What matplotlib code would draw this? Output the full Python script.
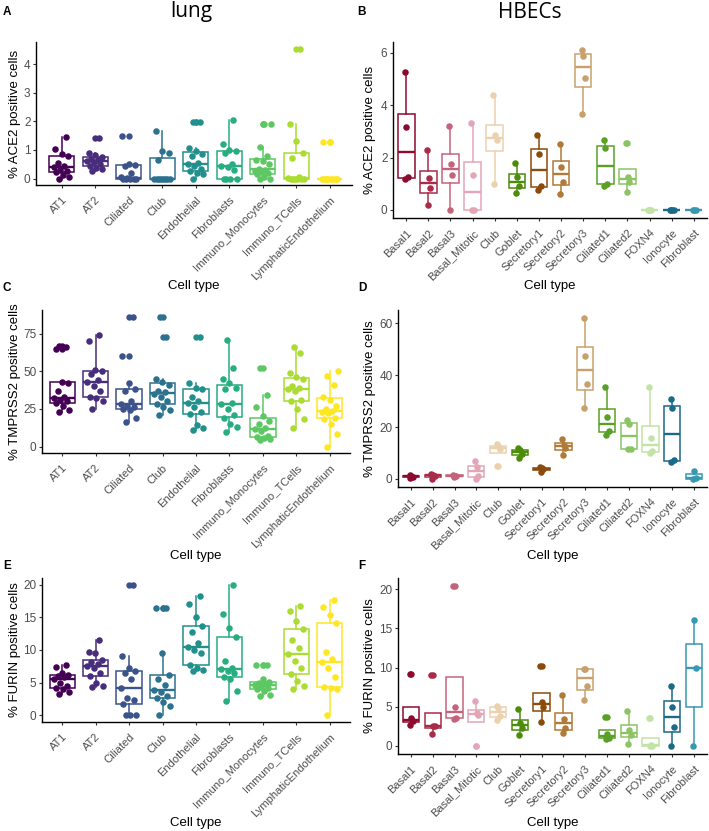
import numpy as np
import matplotlib
matplotlib.use('Agg')
import matplotlib.pyplot as plt

plt.rcParams['font.family'] = ['Liberation Sans', 'DejaVu Sans']

# ---- categories / colours ----
lung_cells = ['AT1', 'AT2', 'Ciliated', 'Club', 'Endothelial', 'Fibroblasts',
              'Immuno_Monocytes', 'Immuno_TCells', 'LymphaticEndothelium']
lung_colors = ['#440154', '#472D7B', '#3B528B', '#2C728E', '#21908C',
               '#27AD81', '#5DC863', '#AADC32', '#FDE725']

hbec_cells = ['Basal1', 'Basal2', 'Basal3', 'Basal_Mitotic', 'Club', 'Goblet',
              'Secretory1', 'Secretory2', 'Secretory3', 'Ciliated1', 'Ciliated2',
              'FOXN4', 'Ionocyte', 'Fibroblast']
hbec_colors = ['#8B0A2E', '#A82C4A', '#C4647C', '#E3A6B6', '#EBD2AE', '#4C8C0A',
               '#8A4B0C', '#B07A38', '#C8A06E', '#5AA028', '#8CC464', '#C2E2A6',
               '#1A6A88', '#3898B0']

# ---- values (% positive cells per donor) ----
ace2_lung = [
    [0.0, 0.05, 0.12, 0.23, 0.25, 0.3, 0.42, 0.45, 0.55, 0.8, 0.85, 1.05, 1.45],
    [0.28, 0.33, 0.38, 0.43, 0.5, 0.57, 0.62, 0.66, 0.7, 0.74, 0.82, 0.9, 1.42],
    [0, 0, 0, 0, 0, 0.02, 0.05, 0.18, 0.45, 0.48, 0.5, 1.5],
    [0, 0, 0, 0, 0, 0, 0, 0, 0.65, 0.88, 0.95, 1.65],
    [0, 0.15, 0.2, 0.25, 0.35, 0.45, 0.5, 0.55, 0.8, 0.85, 0.95, 1.07, 1.97, 1.97],
    [0, 0, 0, 0, 0.3, 0.4, 0.45, 0.5, 0.9, 0.95, 1.0, 1.2, 2.05],
    [0, 0, 0.05, 0.15, 0.18, 0.22, 0.25, 0.3, 0.35, 0.5, 0.6, 0.65, 0.8, 1.1, 1.9, 1.9],
    [0, 0, 0, 0, 0, 0, 0.02, 0.05, 0.72, 0.9, 1.3, 1.92, 4.55],
    [0, 0, 0, 0, 0, 0, 0, 0, 0, 0, 1.28, 1.28],
]
ace2_hbec = [
    [1.18, 1.25, 3.15, 5.25],
    [0.2, 0.82, 1.22, 2.27],
    [0, 1.35, 1.75, 3.22],
    [0, 0, 1.35, 3.3],
    [1.0, 2.65, 2.85, 4.38],
    [0.65, 0.92, 1.25, 1.8],
    [0.78, 0.9, 2.13, 2.87],
    [0.62, 1.08, 1.63, 2.53],
    [3.65, 5.05, 5.88, 6.1],
    [0.92, 1.0, 2.37, 2.68],
    [0.7, 1.08, 1.25, 2.57],
    [0, 0, 0, 0],
    [0, 0, 0, 0],
    [0, 0, 0],
]
tmprss2_lung = [
    [23, 24, 27, 29, 30, 31, 32, 33, 37, 42, 43, 65, 66, 67],
    [25, 30, 32, 33, 37, 40, 43, 44, 48, 50, 51, 70, 74],
    [16, 19, 24, 25, 26, 27, 28, 30, 37, 38, 42, 60, 86.5],
    [21, 24, 26, 28, 30, 33, 35, 36, 37, 41, 43, 45, 73, 86],
    [11, 12, 14, 21.5, 23, 26, 29, 30, 33, 38, 39, 42, 73],
    [9.5, 13, 15, 19, 21, 25, 28, 29, 38, 39, 42, 45, 52, 71],
    [4.5, 5, 5.5, 6.5, 7, 10, 11.5, 12, 15, 17, 20, 26, 34.5, 52.5],
    [12, 18, 25, 30, 31, 37, 38, 39, 40, 45, 46, 49, 62, 66],
    [0, 8, 15, 18.5, 19, 22, 23, 23.6, 25, 27, 31, 33, 41, 47, 50],
]
tmprss2_hbec = [
    [0.5, 0.9, 1.2, 1.5],
    [0.1, 1.2, 1.5, 1.8],
    [0.8, 1.1, 1.3, 1.6],
    [0, 1.2, 4.6, 6.8],
    [5, 11.5, 12.6, 13.3],
    [8, 9.5, 11, 12],
    [2.8, 3.8, 4.2, 4.7],
    [9.3, 12.0, 13.2, 15.5],
    [27.2, 36.7, 47.2, 62],
    [17, 18.6, 24, 35.5],
    [11.5, 11.6, 21.2, 22.8],
    [10, 10.6, 15.6, 35.5],
    [6.5, 7.3, 27.2, 30.8],
    [0, 0.3, 3.2],
]
furin_lung = [
    [3.3, 3.6, 4.0, 4.17, 4.5, 5.0, 5.5, 5.8, 6.0, 6.16, 6.5, 7.4, 7.7],
    [4.3, 4.5, 5.0, 6.0, 6.5, 7.2, 7.5, 7.8, 8.2, 8.4, 9.5, 9.7, 11.5],
    [0, 0, 0, 1.68, 2.4, 2.6, 4.22, 5.6, 6.5, 6.77, 7.2, 9.1, 20],
    [0, 1.5, 2.0, 2.6, 3.0, 3.6, 3.82, 4.7, 5.6, 6.16, 9.6, 16.4, 16.4],
    [6.8, 7.0, 7.3, 7.7, 9.5, 10.0, 10.5, 11.0, 12.8, 13.7, 15.0, 17.0, 18.3],
    [2.2, 3.8, 5.5, 5.95, 6.5, 6.8, 7.07, 7.3, 8.3, 11.96, 13.3, 15.5, 20],
    [3.0, 3.2, 3.7, 4.0, 4.2, 4.4, 4.63, 4.8, 5.0, 5.1, 5.6, 7.7, 7.7],
    [4.0, 4.5, 5.2, 6.36, 7.2, 8.3, 9.4, 10.3, 11.5, 13.2, 14.5, 15.9, 16.7],
    [0, 4.0, 4.2, 4.33, 5.9, 7.3, 8.2, 8.7, 9.7, 14.2, 15.4, 16.5, 17.7],
]
furin_hbec = [
    [2.65, 3.2, 3.55, 9.2],
    [1.5, 2.5, 2.6, 9.1],
    [3.4, 3.55, 5.0, 20.4],
    [0, 4.0, 4.2, 5.8],
    [3.3, 3.86, 4.9, 5.1],
    [1.35, 2.35, 2.9, 4.7],
    [3.1, 5.0, 5.6, 10.2],
    [1.65, 2.25, 3.5, 6.5],
    [5.85, 7.6, 9.8, 9.85],
    [0.85, 1.05, 1.5, 3.7],
    [0.3, 1.35, 2.0, 4.5],
    [0, 0, 0.15, 3.6],
    [0, 2.45, 5.0, 7.7],
    [0, 9.9, 16.1],
]

W, H = 709, 831
fig = plt.figure(figsize=(W / 100, H / 100), dpi=100)


def add_ax(l, t, r, b):
    return fig.add_axes([l / W, 1 - b / H, (r - l) / W, (b - t) / H])


def panel(box, xlim, cells, colors, values, ticks, ylabel, jit, xlab_y, ylab_x):
    l, t, r, b = box
    ax = add_ax(l, t, r, b)
    n = len(cells)
    pos = np.arange(1, n + 1)
    bp = ax.boxplot(values, positions=pos, widths=0.75, whis=1.5,
                    patch_artist=True, showcaps=False, manage_ticks=False,
                    flierprops=dict(marker='o', markersize=4.6, markeredgewidth=0))
    for i, c in enumerate(colors):
        bp['boxes'][i].set(facecolor='white', edgecolor=c, linewidth=1.1)
        bp['medians'][i].set(color=c, linewidth=1.7)
        for w in bp['whiskers'][2 * i:2 * i + 2]:
            w.set(color=c, linewidth=1.1)
        bp['fliers'][i].set(markerfacecolor=c, markeredgecolor=c)
    for i, vals in enumerate(values):
        k = np.arange(len(vals))
        off = ((k * 0.618 + 0.31) % 1 - 0.5) * 2 * jit
        ax.scatter(pos[i] + off, vals, s=22, color=colors[i], lw=0, zorder=4)

    allv = np.concatenate([np.asarray(v, float) for v in values])
    lo, hi = allv.min(), allv.max()
    rng = hi - lo
    ax.set_ylim(lo - 0.05 * rng, hi + 0.05 * rng)
    ax.set_xlim(*xlim)
    ax.set_yticks(ticks)
    ax.set_xticks(pos)
    ax.set_xticklabels(cells, rotation=45, ha='right', va='top',
                       rotation_mode='anchor')
    for s in ['top', 'right']:
        ax.spines[s].set_visible(False)
    for s in ['left', 'bottom']:
        ax.spines[s].set_linewidth(1.0)
    ax.tick_params(axis='both', labelsize=8, labelcolor='#4D4D4D',
                   color='#333333', length=2.5, width=0.8)
    ax.tick_params(axis='x', pad=4.5)
    ax.tick_params(axis='y', pad=1.5, labelsize=8.5)
    ax.set_ylabel(ylabel, fontsize=9.5)
    ax.yaxis.set_label_coords((ylab_x - l) / (r - l), 0.5)
    ax.yaxis.label.set_va('center')
    ax.set_xlabel('Cell type', fontsize=9.5)
    ax.xaxis.set_label_coords(0.5, (b - xlab_y) / (b - t))
    ax.xaxis.label.set_va('center')
    return ax


panel((36, 42, 352, 185), (0.23, 9.66), lung_cells, lung_colors, ace2_lung,
      [0, 1, 2, 3, 4], '% ACE2 positive cells', 0.25, 286, 15)
panel((393, 42, 707, 218), (0.4, 14.6), hbec_cells, hbec_colors, ace2_hbec,
      [0, 2, 4, 6], '% ACE2 positive cells', 0.1, 286, 370)
panel((42, 310, 350, 453), (0.4, 9.6), lung_cells, lung_colors, tmprss2_lung,
      [0, 25, 50, 75], '% TMPRSS2 positive cells', 0.25, 556, 15)
panel((398, 310, 707, 487), (0.4, 14.6), hbec_cells, hbec_colors, tmprss2_hbec,
      [0, 20, 40, 60], '% TMPRSS2 positive cells', 0.1, 556, 370)
panel((42, 578, 350, 722), (0.4, 9.6), lung_cells, lung_colors, furin_lung,
      [0, 5, 10, 15, 20], '% FURIN positive cells', 0.25, 823, 15)
panel((398, 578, 707, 754), (0.4, 14.6), hbec_cells, hbec_colors, furin_hbec,
      [0, 5, 10, 15, 20], '% FURIN positive cells', 0.1, 823, 370)

# titles and panel letters
fig.text(191 / W, 1 - 12 / H, 'lung', fontsize=15, ha='center', va='center',
         family=['Open Sans', 'DejaVu Sans'])
fig.text(530 / W, 1 - 12 / H, 'HBECs', fontsize=15, ha='center', va='center',
         family=['Open Sans', 'DejaVu Sans'])
for lab, x, y in [('A', 7, 12), ('B', 362, 12), ('C', 7, 288),
                  ('D', 362, 288), ('E', 7, 566), ('F', 362, 566)]:
    fig.text(x / W, 1 - y / H, lab, fontsize=8.5, fontweight='bold',
             ha='center', va='center')

fig.savefig('out.png', dpi=100)
